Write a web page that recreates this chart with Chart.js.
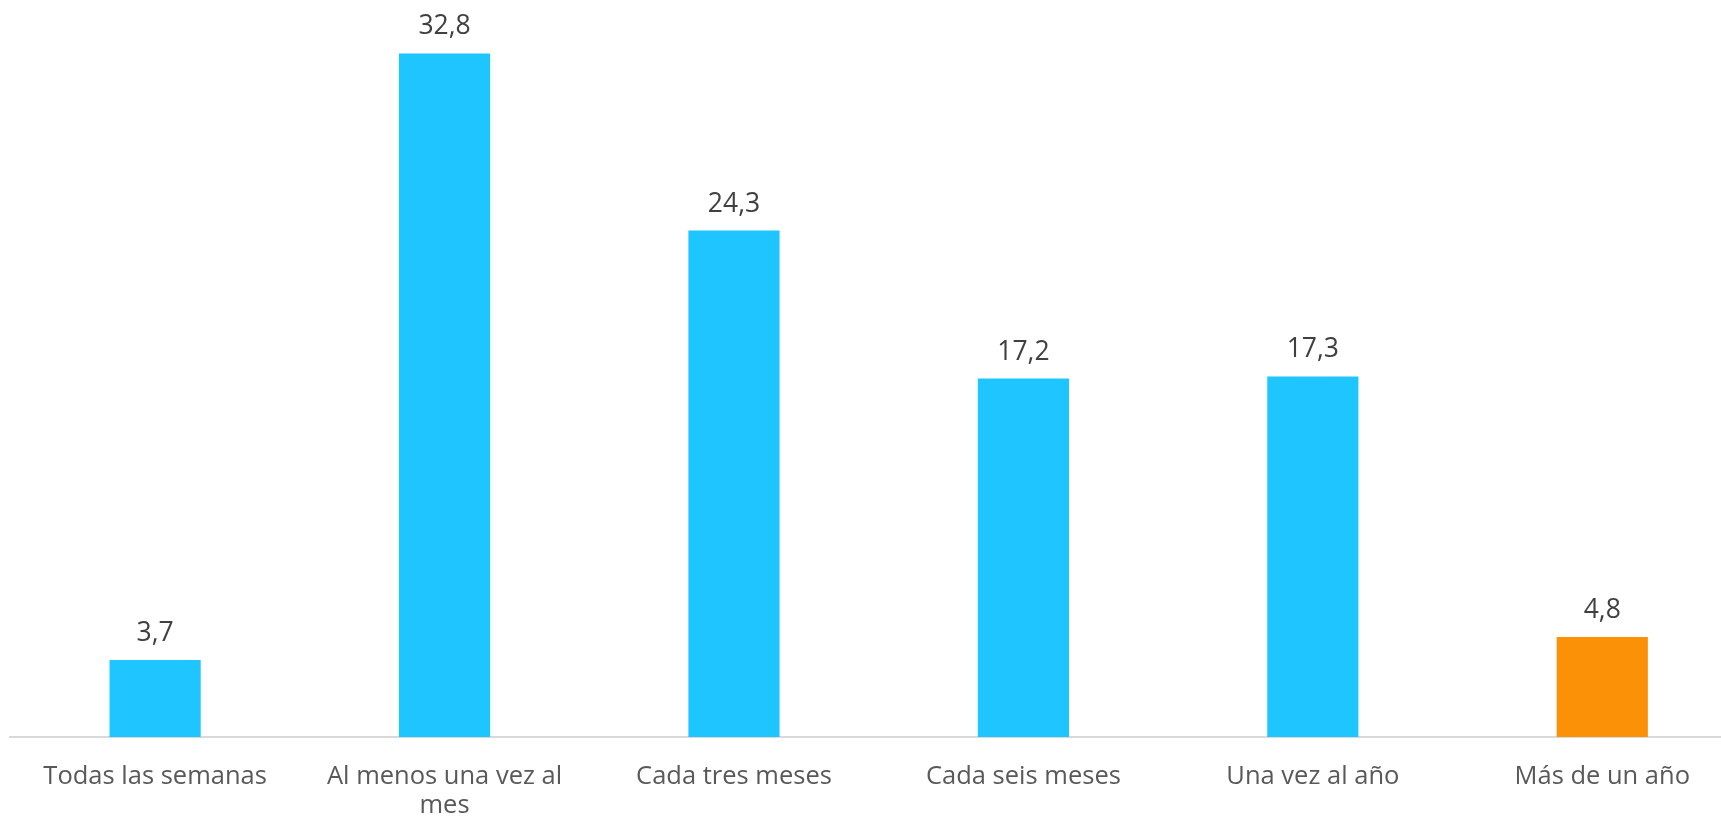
<!DOCTYPE html>
<html>
<head>
<meta charset="utf-8">
<script src="https://cdn.jsdelivr.net/npm/chart.js@4.4.1/dist/chart.umd.min.js"></script>
<style>
  html, body { margin: 0; padding: 0; overflow: hidden; background: #ffffff; width: 1721px; height: 825px; }
  #wrap { position: absolute; left: 0; top: 0; width: 1747px; height: 825px; }
</style>
</head>
<body>
<div id="wrap"><canvas id="c" width="1747" height="825"></canvas></div>
<script>
const categories = [
  "Todas las semanas",
  ["Al menos una vez al", "mes"],
  "Cada tres meses",
  "Cada seis meses",
  "Una vez al año",
  "Más de un año"
];
const values = [3.7, 32.8, 24.3, 17.2, 17.3, 4.8];
const yMin = 0;
const yMax = 35;

const BLUE = "#1FC5FF";
const ORANGE = "#FB9106";
const barColors = [BLUE, BLUE, BLUE, BLUE, BLUE, ORANGE];

const valueLabels = {
  id: "valueLabels",
  afterDatasetsDraw(chart) {
    const ctx = chart.ctx;
    const meta = chart.getDatasetMeta(0);
    ctx.save();
    ctx.font = "26.5px 'Open Sans'";
    ctx.fillStyle = "#404040";
    ctx.textAlign = "center";
    ctx.textBaseline = "alphabetic";
    meta.data.forEach((bar, i) => {
      const v = chart.data.datasets[0].data[i];
      ctx.fillText(v.toFixed(1).replace(".", ","), bar.x, bar.y - 19);
    });
    ctx.restore();
  }
};

new Chart(document.getElementById("c"), {
  type: "bar",
  data: {
    labels: categories,
    datasets: [{
      data: values,
      backgroundColor: barColors,
      borderWidth: 0,
      categoryPercentage: 0.315,
      barPercentage: 1
    }]
  },
  options: {
    responsive: false,
    devicePixelRatio: 1,
    animation: false,
    layout: { padding: { top: 7.6, left: 10.4, right: 0, bottom: 0 } },
    plugins: { legend: { display: false }, tooltip: { enabled: false } },
    scales: {
      x: {
        grid: { display: false, drawTicks: false },
        border: { display: true, color: "#d9d9d9", width: 2 },
        ticks: {
          color: "#595959",
          font: { family: "'Open Sans'", size: 25.5, lineHeight: 1.137 },
          padding: 25.5,
          maxRotation: 0,
          minRotation: 0,
          autoSkip: false
        },
        afterFit(scale) { scale.height = 88; }
      },
      y: {
        display: false,
        min: yMin,
        max: yMax
      }
    }
  },
  plugins: [valueLabels]
});
</script>
</body>
</html>
